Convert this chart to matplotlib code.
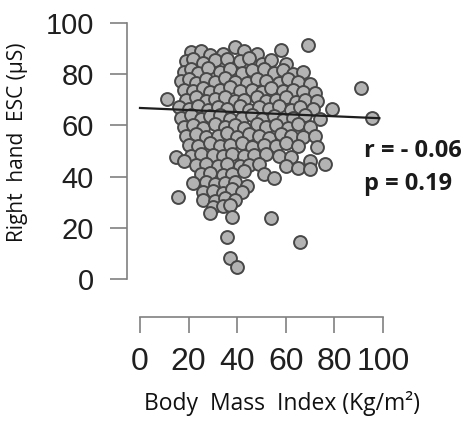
import matplotlib.pyplot as plt
import numpy as np

# values (BMI vs right hand ESC)
bmi = [21, 25, 29, 34, 39, 43, 48, 58, 69,
       19, 22, 26, 31, 36, 41, 45, 50, 54, 60,
       18, 21, 24, 28, 33, 37, 42, 46, 51, 55, 59, 63, 67,
       17, 20, 23, 27, 31, 35, 39, 44, 48, 52, 57, 61, 65, 70,
       18, 22, 26, 29, 33, 37, 41, 46, 50, 54, 59, 63, 67, 72, 91,
       11, 19, 23, 27, 31, 35, 39, 43, 48, 52, 56, 60, 64, 68, 73,
       16, 20, 24, 28, 32, 36, 41, 45, 49, 53, 57, 62, 66, 71, 79,
       17, 21, 25, 29, 33, 37, 42, 46, 50, 55, 59, 63, 68, 74, 95.5,
       18, 22, 26, 31, 35, 39, 43, 48, 52, 56, 61, 65, 70,
       19, 23, 27, 32, 36, 40, 45, 49, 53, 58, 62, 67, 72,
       20, 24, 29, 33, 37, 42, 46, 51, 56, 60, 65, 73,
       15, 21, 25, 30, 34, 38, 43, 47, 52, 57, 62, 70, 76,
       18, 23, 27, 32, 36, 41, 45, 49, 60, 65, 70,
       25, 29, 34, 38, 43, 51, 55,
       22, 27, 31, 35, 39, 44,
       26, 30, 34, 38, 42,
       15.6, 26, 31, 35, 39,
       30, 34, 37,
       29, 38, 54, 36, 66, 37, 40]
esc = [88.5, 89, 87.5, 88, 90.5, 89, 88, 89.5, 91.5,
       85, 86, 84.5, 85.5, 86, 85, 86.5, 84, 85.5, 84,
       81, 82, 80.5, 82.5, 81, 82, 80.5, 81.5, 82, 80.5, 81.5, 80, 81,
       77.5, 78, 76.5, 78, 77, 78.5, 77, 76.5, 78, 77.5, 76.5, 78, 77, 76,
       74, 73.5, 74.5, 73, 74, 75, 73.5, 74, 73, 74.5, 73.5, 74, 73, 72.5, 74.5,
       70.5, 70, 71, 69.5, 70.5, 71, 69.5, 70, 71, 69.5, 70, 71, 69, 70, 69.5,
       67, 66.5, 67.5, 66, 67, 66.5, 67.5, 66, 67, 66.5, 67.5, 66, 67, 66.5, 66.5,
       63, 64, 62.5, 63.5, 64, 62.5, 63, 64, 62.5, 63.5, 62, 63, 64, 62.5, 63,
       59.5, 60, 59, 60.5, 59.5, 60, 59, 60.5, 59.5, 60, 59, 60.5, 59.5,
       56, 56.5, 55.5, 56, 57, 55.5, 56.5, 56, 55, 56.5, 56, 55.5, 56,
       52.5, 52, 53, 52, 52.5, 53, 51.5, 52.5, 52, 53, 52, 51.7,
       47.7, 48, 49, 48.5, 48, 49, 48, 48.5, 49, 48, 47.5, 46, 45,
       46, 44.5, 45, 44, 45, 44, 44.5, 45, 44, 43.5, 43,
       41, 41.5, 40.5, 41, 42, 41, 39.3,
       37.5, 38, 37, 37.5, 38, 36.5,
       34, 34.5, 33.5, 35, 34,
       32, 31, 30.5, 31.5, 31,
       28, 28.5, 29,
       25.8, 24.2, 24, 16.4, 14.5, 8.2, 4.7]

fit_x = [0, 98.5]
fit_y = [66.8, 62.8]

xticks = [0, 20, 40, 60, 80, 100]
yticks = [0, 20, 40, 60, 80, 100]

fig = plt.figure(figsize=(4.69, 4.26), dpi=100)
ax = fig.add_axes([0.2674, 0.2371, 0.5493, 0.7089])

ax.scatter(bmi, esc, s=86, facecolor='#b3b3b3', edgecolor='#474747',
           linewidth=1.4, zorder=2)
ax.plot(fit_x, fit_y, color='#1e1e1e', linewidth=1.6, zorder=3)

ax.set_xlim(-6, 100)
ax.set_ylim(-18, 100)
ax.spines['top'].set_visible(False)
ax.spines['right'].set_visible(False)
ax.spines['left'].set_position(('data', -5.3))
ax.spines['bottom'].set_position(('data', -14.8))
ax.spines['left'].set_bounds(0, 100)
ax.spines['bottom'].set_bounds(0, 100)
for sp in ['left', 'bottom']:
    ax.spines[sp].set_color('#808080')
    ax.spines[sp].set_linewidth(1.2)

ax.set_xticks(xticks)
ax.set_yticks(yticks)
ax.tick_params(axis='y', length=12, width=1.2, color='#808080', pad=12,
               labelsize=21, labelcolor='#1f1f1f')
ax.tick_params(axis='x', length=11.5, width=1.2, color='#808080', pad=10,
               labelsize=23, labelcolor='#1f1f1f')
for lab in ax.get_xticklabels() + ax.get_yticklabels():
    lab.set_family('Liberation Sans')

fig.text(282 / 469, 1 - 410 / 426, 'Body  Mass  Index (Kg/m\u00b2)',
         ha='center', va='baseline', fontsize=16.5, family='Open Sans',
         color='#111111')
fig.text(18 / 469, 1 - 142 / 426, 'Right  hand  ESC (\u00b5S)', rotation=90,
         ha='center', va='center', fontsize=15, family='Open Sans',
         color='#111111')
fig.text(364 / 469, 1 - 157 / 426, 'r = - 0.06', ha='left', va='baseline',
         fontsize=17, fontweight='bold', family='Open Sans', color='#1a1a1a')
fig.text(364 / 469, 1 - 190 / 426, 'p = 0.19', ha='left', va='baseline',
         fontsize=17, fontweight='bold', family='Open Sans', color='#1a1a1a')

fig.savefig('out.png', dpi=100)
